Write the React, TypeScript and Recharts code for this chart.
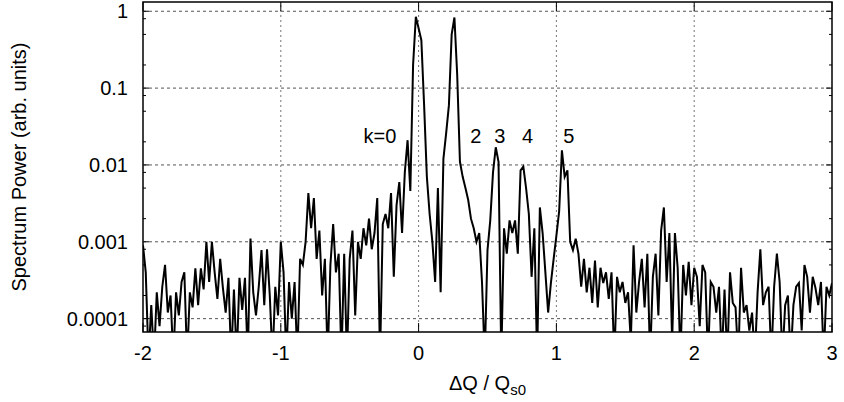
import React from "react";
import {
  LineChart,
  Line,
  XAxis,
  YAxis,
  ReferenceLine,
  ReferenceArea,
  ReferenceDot,
} from "recharts";

// sampling grid of the spectrum (ΔQ / Qs0)
const Q_START = -2;
const Q_STEP = 0.02;

// power, -2.00 .. -1.00
const powerLeft = [
  9e-4, 4e-4, 3e-5, 1.5e-4, 3e-5, 2.2e-4, 8e-5, 2.6e-4, 5e-4, 1.2e-4,
  2e-4, 3e-5, 2.2e-4, 1.1e-4, 3e-4, 4e-4, 3e-5, 2.2e-4, 1.4e-4, 4.5e-4,
  1.5e-4, 4.5e-4, 2.4e-4, 1e-3, 3e-4, 1e-3, 4e-4, 1.8e-4, 6e-4, 2.5e-4,
  1.2e-4, 3.4e-4, 3e-5, 2.4e-4, 3e-5, 3.4e-4, 1.3e-4, 3.4e-4, 3e-5, 1.1e-3,
  2.2e-4, 1.1e-4, 2.6e-4, 7.8e-4, 1.5e-4, 8e-4, 2e-4, 3e-5, 2.6e-4, 1.1e-4,
  1e-3,
];

// -0.98 .. 1.00 (sidebands k=0..5)
const powerCore = [
  4e-4, 3e-5, 3e-4, 1e-4, 3e-4, 3e-5, 6e-4, 5e-4, 1e-3, 4.3e-3,
  1.5e-3, 3.7e-3, 6e-4, 1.4e-3, 2e-4, 6e-4, 3e-5, 5e-4, 1.7e-3, 4e-4,
  7e-4, 3e-5, 7e-4, 3e-5, 6e-4, 1.4e-3, 1.1e-4, 1e-3, 6e-4, 1.5e-3,
  9e-4, 2e-3, 8e-4, 1.3e-3, 3.7e-3, 3e-5, 1.7e-3, 2.3e-3, 1.5e-3, 4.3e-3,
  3.5e-4, 3e-3, 6e-3, 1.3e-3, 8e-3, 0.021, 4.6e-3, 0.2, 0.85, 0.6,
  0.42, 0.06, 7e-3, 2.3e-3, 1e-3, 3e-4, 5e-3, 2.2e-4, 0.012, 0.026,
  0.06, 0.5, 0.83, 0.15, 0.011, 7e-3, 5e-3, 3.5e-3, 2e-3, 1.5e-3,
  1e-3, 1.3e-3, 3e-4, 3e-5, 7.8e-4, 1.9e-3, 8e-3, 0.017, 0.011, 3e-5,
  1.5e-3, 7e-4, 1.9e-3, 1.3e-3, 1.9e-3, 7e-4, 8.5e-3, 9.5e-3, 5e-3, 2.3e-3,
  3.5e-4, 1.5e-3, 3e-5, 2.8e-3, 1.3e-3, 4e-4, 1.2e-4, 2.9e-4, 6e-4, 1.2e-3,
];

// 1.02 .. 3.00
const powerRight = [
  2.5e-3, 0.0155, 7e-3, 8.5e-3, 1e-3, 7.8e-4, 1.1e-3, 7e-4, 2.6e-4, 6e-4,
  2.2e-4, 4.6e-4, 1.6e-4, 5.7e-4, 1.4e-4, 4.6e-4, 2.9e-4, 4e-4, 1.8e-4, 4e-4,
  3e-5, 3.5e-4, 2.2e-4, 3e-4, 1.6e-4, 2.2e-4, 5e-5, 9e-4, 1.2e-4, 3e-4,
  6e-4, 1.4e-4, 7e-4, 3e-5, 3.5e-4, 7e-4, 1.1e-4, 1.4e-3, 2.8e-3, 3e-4,
  1.3e-3, 5e-5, 1.3e-3, 4.6e-4, 3e-5, 5e-4, 2e-4, 5.5e-4, 1.5e-4, 4.6e-4,
  3.5e-4, 8e-5, 5e-4, 4e-4, 3e-5, 3e-4, 2.6e-4, 1.2e-4, 2.6e-4, 3e-5,
  2.4e-4, 3e-5, 4e-4, 1.6e-4, 1.4e-4, 3e-5, 4.6e-4, 1.2e-4, 1.5e-4, 7e-5,
  1.2e-4, 3e-5, 2.2e-4, 8e-4, 1.5e-4, 2.2e-4, 2.6e-4, 3e-5, 2.6e-4, 7e-4,
  3e-4, 3e-5, 1.5e-4, 2e-4, 3e-5, 1.5e-4, 2.6e-4, 2.9e-4, 7e-5, 5e-4,
  3.5e-4, 1.2e-4, 3.5e-4, 2.5e-4, 1.5e-4, 3e-4, 3e-5, 2.6e-4, 2e-4, 2.9e-4,
];

const X_TICKS = [-2, -1, 0, 1, 2, 3];
const X_GRID = [-1, 0, 1, 2];
const Y_MAJOR = [1, 0.1, 0.01, 0.001, 0.0001];
const Y_MINOR = [
  0.8, 0.5, 0.2, 0.08, 0.05, 0.02, 0.008, 0.005, 0.002, 0.0008, 0.0005,
  0.0002, 0.00008,
];

// sideband labels: [text, ΔQ, power]
const sidebandLabels: [string, number, number][] = [
  ["k=0", -0.28, 0.024],
  ["2", 0.415, 0.024],
  ["3", 0.59, 0.024],
  ["4", 0.79, 0.024],
  ["5", 1.09, 0.024],
];

const Y_MIN = 6.7e-5;
const Y_MAX = 1.32;

const W = 844;
const H = 402;
const PLOT_LEFT = 143;
const PLOT_RIGHT = 832;
const PLOT_TOP = 2;
const PLOT_BOTTOM = 332;
const FONT = 20;

const data = [...powerLeft, ...powerCore, ...powerRight].map((p, i) => ({
  q: +(Q_START + i * Q_STEP).toFixed(2),
  p,
}));

const YTick = (props: any) => {
  const { y, payload } = props;
  const major = Y_MAJOR.includes(payload.value);
  const len = major ? 6 : 3;
  return (
    <g>
      <line x1={PLOT_LEFT} x2={PLOT_LEFT + len} y1={y} y2={y} stroke="#000" />
      <line x1={PLOT_RIGHT} x2={PLOT_RIGHT - len} y1={y} y2={y} stroke="#000" />
      {major && (
        <text x={128} y={y + 7} textAnchor="end" fontSize={FONT} fill="#000">
          {String(payload.value)}
        </text>
      )}
    </g>
  );
};

const XTick = (props: any) => {
  const { x, payload } = props;
  return (
    <g>
      <line x1={x} x2={x} y1={PLOT_BOTTOM} y2={PLOT_BOTTOM - 9} stroke="#000" />
      <line x1={x} x2={x} y1={PLOT_TOP} y2={PLOT_TOP + 9} stroke="#000" />
      <text x={x} y={360} textAnchor="middle" fontSize={FONT} fill="#000">
        {String(payload.value)}
      </text>
    </g>
  );
};

export default function App() {
  return (
    <div
      style={{
        position: "absolute",
        left: 0,
        top: 0,
        width: W,
        height: H,
        background: "#fff",
        fontFamily: "'Liberation Sans', Arial, sans-serif",
      }}
    >
      <LineChart
        width={W}
        height={H}
        data={data}
        margin={{ top: PLOT_TOP, right: W - PLOT_RIGHT, left: 0, bottom: 30 }}
      >
        <XAxis
          dataKey="q"
          type="number"
          domain={[-2, 3]}
          ticks={X_TICKS}
          interval={0}
          allowDataOverflow
          height={40}
          tickLine={false}
          axisLine={false}
          tick={<XTick />}
          label={{
            content: () => (
              <text
                x={(PLOT_LEFT + PLOT_RIGHT) / 2}
                y={390}
                textAnchor="middle"
                fontSize={FONT}
                fill="#000"
              >
                ΔQ / Q
                <tspan fontSize={15} dy={5}>
                  s0
                </tspan>
              </text>
            ),
          }}
        />
        <YAxis
          type="number"
          scale="log"
          domain={[Y_MIN, Y_MAX]}
          ticks={[...Y_MAJOR, ...Y_MINOR]}
          interval={0}
          allowDataOverflow
          width={PLOT_LEFT}
          tickLine={false}
          axisLine={false}
          tick={<YTick />}
          label={{
            content: () => (
              <text
                transform={`translate(26, ${(PLOT_TOP + PLOT_BOTTOM) / 2}) rotate(-90)`}
                textAnchor="middle"
                fontSize={FONT}
                fill="#000"
              >
                Spectrum Power (arb. units)
              </text>
            ),
          }}
        />
        {Y_MAJOR.map((v) => (
          <ReferenceLine
            key={"h" + v}
            y={v}
            stroke="#555"
            strokeDasharray="3 3"
          />
        ))}
        {X_GRID.map((v) => (
          <ReferenceLine
            key={"v" + v}
            x={v}
            stroke="#777"
            strokeDasharray="2 3"
          />
        ))}
        <Line
          dataKey="p"
          type="linear"
          stroke="#000"
          strokeWidth={2}
          dot={false}
          isAnimationActive={false}
        />
        <ReferenceArea
          x1={-2}
          x2={3}
          y1={Y_MIN}
          y2={Y_MAX}
          fill="none"
          stroke="#000"
          strokeWidth={1.5}
        />
        {sidebandLabels.map(([t, q, p]) => (
          <ReferenceDot
            key={t}
            x={q}
            y={p}
            r={0}
            fill="none"
            stroke="none"
            label={{ value: t, position: "center", fontSize: FONT, fill: "#000" }}
          />
        ))}
      </LineChart>
    </div>
  );
}
